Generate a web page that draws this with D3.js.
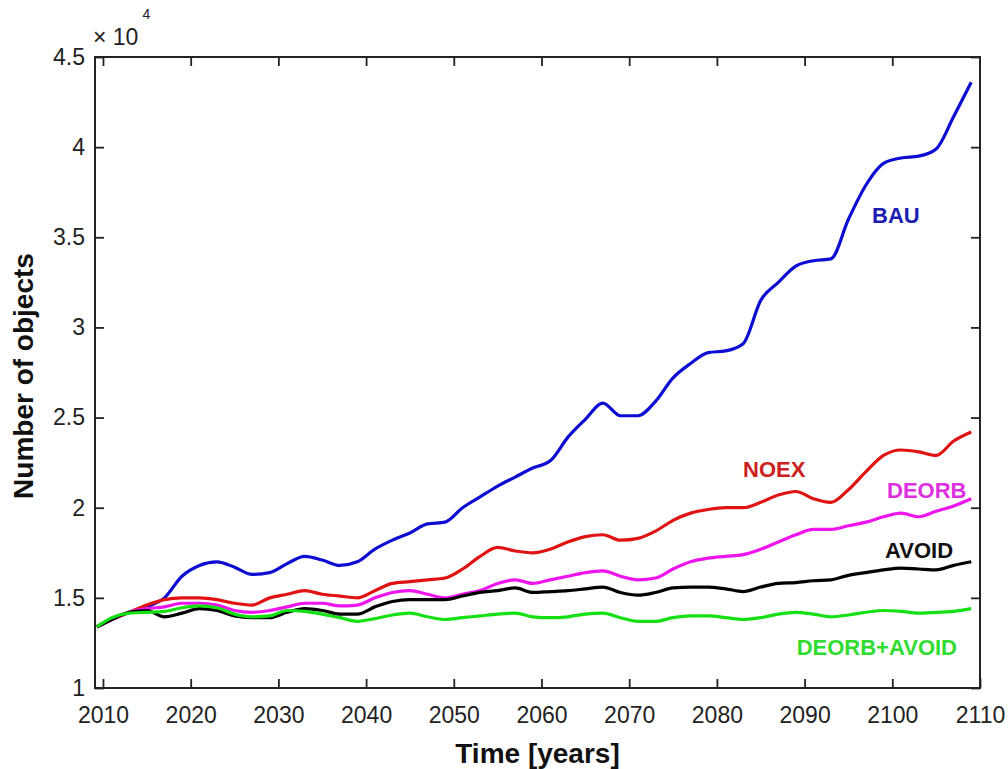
<!DOCTYPE html>
<html>
<head>
<meta charset="utf-8">
<script src="https://cdn.jsdelivr.net/npm/d3@7"></script>
<style>
  body { margin: 0; background: #fff; }
  svg { display: block; font-family: "Liberation Sans", Arial, sans-serif; }
</style>
</head>
<body>
<div id="chart"></div>
<script>
// values are in units of 10^4 objects
var years = [2009.3, 2011, 2013, 2015, 2017, 2019, 2021, 2023, 2025, 2027, 2029, 2031, 2033, 2035, 2037, 2039,
  2041, 2043, 2045, 2047, 2049, 2051, 2053, 2055, 2057, 2059, 2061, 2063, 2065, 2067, 2069, 2071, 2073, 2075,
  2077, 2079, 2081, 2083, 2085, 2087, 2089, 2091, 2093, 2095, 2097, 2099, 2101, 2103, 2105, 2107, 2109];

var bau = [1.34, 1.38, 1.42, 1.45, 1.50, 1.62, 1.68, 1.70, 1.67, 1.63, 1.64, 1.69, 1.73, 1.71, 1.68, 1.70,
  1.77, 1.82, 1.86, 1.91, 1.92, 2.00, 2.06, 2.12, 2.17, 2.22, 2.26, 2.39, 2.49, 2.58, 2.51, 2.51, 2.59, 2.72,
  2.80, 2.86, 2.87, 2.91, 3.15, 3.25, 3.34, 3.37, 3.38, 3.60, 3.79, 3.91, 3.94, 3.95, 3.99, 4.17, 4.36];

var noex = [1.34, 1.38, 1.42, 1.46, 1.49, 1.50, 1.50, 1.49, 1.47, 1.46, 1.50, 1.52, 1.54, 1.52, 1.51, 1.50,
  1.54, 1.58, 1.59, 1.60, 1.61, 1.66, 1.73, 1.78, 1.76, 1.75, 1.77, 1.81, 1.84, 1.85, 1.82, 1.83, 1.87, 1.93,
  1.97, 1.99, 2.00, 2.00, 2.03, 2.07, 2.09, 2.05, 2.03, 2.10, 2.20, 2.29, 2.32, 2.31, 2.29, 2.37, 2.42];

var deorb = [1.34, 1.38, 1.42, 1.44, 1.45, 1.47, 1.47, 1.46, 1.43, 1.42, 1.43, 1.45, 1.47, 1.47, 1.455, 1.46,
  1.50, 1.53, 1.54, 1.52, 1.50, 1.52, 1.54, 1.58, 1.60, 1.58, 1.60, 1.62, 1.64, 1.65, 1.62, 1.60, 1.61, 1.66,
  1.70, 1.72, 1.73, 1.74, 1.77, 1.81, 1.85, 1.88, 1.88, 1.90, 1.92, 1.95, 1.97, 1.95, 1.98, 2.01, 2.05];

var avoid = [1.34, 1.38, 1.42, 1.43, 1.395, 1.415, 1.44, 1.43, 1.40, 1.39, 1.39, 1.42, 1.44, 1.43, 1.41, 1.41,
  1.45, 1.48, 1.49, 1.49, 1.49, 1.51, 1.53, 1.54, 1.555, 1.53, 1.535, 1.54, 1.55, 1.56, 1.53, 1.515, 1.53, 1.555,
  1.56, 1.56, 1.55, 1.535, 1.56, 1.58, 1.585, 1.595, 1.60, 1.625, 1.64, 1.655, 1.665, 1.66, 1.655, 1.68, 1.70];

var deorbAvoid = [1.34, 1.39, 1.415, 1.42, 1.425, 1.445, 1.455, 1.445, 1.41, 1.395, 1.40, 1.43, 1.425, 1.41, 1.39, 1.37,
  1.385, 1.405, 1.415, 1.395, 1.38, 1.39, 1.40, 1.41, 1.415, 1.395, 1.39, 1.395, 1.41, 1.415, 1.39, 1.37, 1.37, 1.39,
  1.40, 1.40, 1.39, 1.38, 1.39, 1.41, 1.42, 1.41, 1.395, 1.405, 1.42, 1.43, 1.425, 1.415, 1.42, 1.425, 1.44];

var seriesNames = ["BAU", "NOEX", "DEORB", "AVOID", "DEORB+AVOID"];
var seriesValues = [bau, noex, deorb, avoid, deorbAvoid];
var lineColors = ["#0c0cd2", "#e01212", "#ee14ee", "#000000", "#14e014"];
var labelColors = ["#1c1cb0", "#cc2020", "#de30de", "#111111", "#30dc30"];

var xTicks = [2010, 2020, 2030, 2040, 2050, 2060, 2070, 2080, 2090, 2100, 2110];
var yTicks = [1, 1.5, 2, 2.5, 3, 3.5, 4, 4.5];

var svgWidth = 1008;
var svgHeight = 769;
var plot = {left: 95, right: 980, top: 57, bottom: 688};

var svg = d3.select("#chart")
  .append("svg")
  .attr("width", svgWidth)
  .attr("height", svgHeight);

var xScale = d3.scaleLinear().domain([2009.09, 2110]).range([plot.left, plot.right]);
var yScale = d3.scaleLinear().domain([1, 4.5]).range([plot.bottom, plot.top]);

// lines
var line = d3.line()
  .x((d, i) => xScale(years[i]))
  .y(d => yScale(d))
  .curve(d3.curveMonotoneX);

seriesValues.forEach(function(vals, k) {
  svg.append("path")
    .datum(vals)
    .attr("fill", "none")
    .attr("stroke", lineColors[k])
    .attr("stroke-width", 3.2)
    .attr("stroke-linejoin", "round")
    .attr("d", line);
});

// axes, ticks pointing inwards like matlab
var axisColor = "#222";
function styleAxis(g) {
  g.select(".domain").remove();
  g.selectAll(".tick line").attr("stroke", axisColor).attr("stroke-width", 1.8);
  g.selectAll(".tick text").attr("fill", axisColor).attr("font-size", 23)
    .attr("font-family", "'Liberation Sans', Arial, sans-serif");
}

svg.append("g")
  .attr("transform", `translate(0, ${plot.bottom})`)
  .call(d3.axisBottom(xScale).tickValues(xTicks).tickFormat(d3.format("d"))
    .tickSizeInner(-9).tickSizeOuter(0).tickPadding(19))
  .call(styleAxis);

svg.append("g")
  .attr("transform", `translate(0, ${plot.top})`)
  .call(d3.axisTop(xScale).tickValues(xTicks.slice(0, -1)).tickFormat("")
    .tickSizeInner(-9).tickSizeOuter(0))
  .call(styleAxis);

svg.append("g")
  .attr("transform", `translate(${plot.left}, 0)`)
  .call(d3.axisLeft(yScale).tickValues(yTicks).tickFormat(d => String(d))
    .tickSizeInner(-9).tickSizeOuter(0).tickPadding(10))
  .call(styleAxis);

svg.append("g")
  .attr("transform", `translate(${plot.right}, 0)`)
  .call(d3.axisRight(yScale).tickValues(yTicks).tickFormat("")
    .tickSizeInner(-9).tickSizeOuter(0))
  .call(styleAxis);

// box
svg.append("rect")
  .attr("x", plot.left).attr("y", plot.top)
  .attr("width", plot.right - plot.left).attr("height", plot.bottom - plot.top)
  .attr("fill", "none")
  .attr("stroke", axisColor)
  .attr("stroke-width", 2);

// exponent
var mult = svg.append("text")
  .attr("x", 93).attr("y", 45)
  .attr("fill", axisColor)
  .attr("font-size", 23);
mult.append("tspan").text("\u00d7 10");
mult.append("tspan").attr("dy", -26).attr("dx", 4).attr("font-size", 14).text("4");

// series labels
var labelPos = [
  {x: 872, y: 223, anchor: "start"},
  {x: 743, y: 477, anchor: "start"},
  {x: 887, y: 498, anchor: "start"},
  {x: 885, y: 558, anchor: "start"},
  {x: 957, y: 655, anchor: "end"}
];
seriesNames.forEach(function(name, k) {
  svg.append("text")
    .attr("x", labelPos[k].x)
    .attr("y", labelPos[k].y)
    .attr("text-anchor", labelPos[k].anchor)
    .attr("font-size", 22)
    .attr("font-weight", "bold")
    .attr("fill", labelColors[k])
    .text(name);
});

// axis titles
svg.append("text")
  .attr("x", (plot.left + plot.right) / 2)
  .attr("y", 763)
  .attr("text-anchor", "middle")
  .attr("font-size", 28)
  .attr("font-weight", "bold")
  .attr("fill", "#111")
  .text("Time [years]");

svg.append("text")
  .attr("transform", "rotate(-90)")
  .attr("x", -376)
  .attr("y", 33)
  .attr("text-anchor", "middle")
  .attr("font-size", 28)
  .attr("font-weight", "bold")
  .attr("fill", "#111")
  .text("Number of objects");
</script>
</body>
</html>
